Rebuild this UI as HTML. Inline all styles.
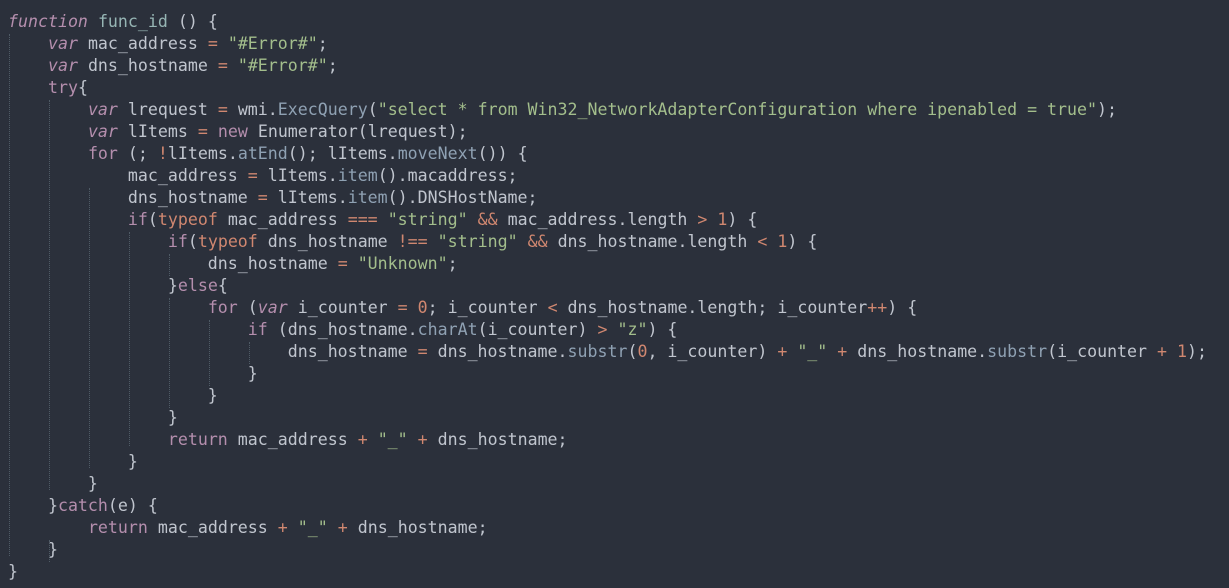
<!DOCTYPE html>
<html><head><meta charset="utf-8"><style>
html,body{margin:0;padding:0;background:#2b303b;width:1229px;height:588px;overflow:hidden}
pre{margin:0;position:absolute;left:8px;top:11px;font-family:"DejaVu Sans Mono","Liberation Mono",monospace;font-size:16.6px;line-height:22px;color:#c0c5ce}
.k{color:#b48ead}.i{color:#b48ead;font-style:italic}.s{color:#a3be8c}.o{color:#d08770}.m{color:#8fa1b3}.f{color:#96b5b4}
.g{position:absolute;width:0;border-left:1px dotted #4f5b66}
</style></head><body>
<div class="g" style="left:9px;top:34px;height:522px"></div>
<div class="g" style="left:49px;top:100px;height:390px"></div>
<div class="g" style="left:89px;top:188px;height:280px"></div>
<div class="g" style="left:129px;top:232px;height:214px"></div>
<div class="g" style="left:169px;top:254px;height:22px"></div>
<div class="g" style="left:169px;top:298px;height:110px"></div>
<div class="g" style="left:209px;top:320px;height:66px"></div>
<div class="g" style="left:249px;top:342px;height:22px"></div>
<div class="g" style="left:49px;top:540px;height:22px"></div>
<pre><span class="i">function</span> <span class="f">func_id</span> () {
    <span class="i">var</span> mac_address <span class="o">=</span> <span class="s">"#Error#"</span>;
    <span class="i">var</span> dns_hostname <span class="o">=</span> <span class="s">"#Error#"</span>;
    <span class="k">try</span>{
        <span class="i">var</span> lrequest <span class="o">=</span> wmi.<span class="m">ExecQuery</span>(<span class="s">"select * from Win32_NetworkAdapterConfiguration where ipenabled = true"</span>);
        <span class="i">var</span> lItems <span class="o">=</span> <span class="k">new</span> Enumerator(lrequest);
        <span class="k">for</span> (; <span class="o">!</span>lItems.<span class="m">atEnd</span>(); lItems.<span class="m">moveNext</span>()) {
            mac_address <span class="o">=</span> lItems.<span class="m">item</span>().macaddress;
            dns_hostname <span class="o">=</span> lItems.<span class="m">item</span>().DNSHostName;
            <span class="k">if</span>(<span class="o">typeof</span> mac_address <span class="o">===</span> <span class="s">"string"</span> <span class="o">&amp;&amp;</span> mac_address.length <span class="o">&gt;</span> <span class="o">1</span>) {
                <span class="k">if</span>(<span class="o">typeof</span> dns_hostname <span class="o">!==</span> <span class="s">"string"</span> <span class="o">&amp;&amp;</span> dns_hostname.length <span class="o">&lt;</span> <span class="o">1</span>) {
                    dns_hostname <span class="o">=</span> <span class="s">"Unknown"</span>;
                }<span class="k">else</span>{
                    <span class="k">for</span> (<span class="i">var</span> i_counter <span class="o">=</span> <span class="o">0</span>; i_counter <span class="o">&lt;</span> dns_hostname.length; i_counter<span class="o">++</span>) {
                        <span class="k">if</span> (dns_hostname.<span class="m">charAt</span>(i_counter) <span class="o">&gt;</span> <span class="s">"z"</span>) {
                            dns_hostname <span class="o">=</span> dns_hostname.<span class="m">substr</span>(<span class="o">0</span>, i_counter) <span class="o">+</span> <span class="s">"_"</span> <span class="o">+</span> dns_hostname.<span class="m">substr</span>(i_counter <span class="o">+</span> <span class="o">1</span>);
                        }
                    }
                }
                <span class="k">return</span> mac_address <span class="o">+</span> <span class="s">"_"</span> <span class="o">+</span> dns_hostname;
            }
        }
    }<span class="k">catch</span>(e) {
        <span class="k">return</span> mac_address <span class="o">+</span> <span class="s">"_"</span> <span class="o">+</span> dns_hostname;
    }
}</pre>
</body></html>
